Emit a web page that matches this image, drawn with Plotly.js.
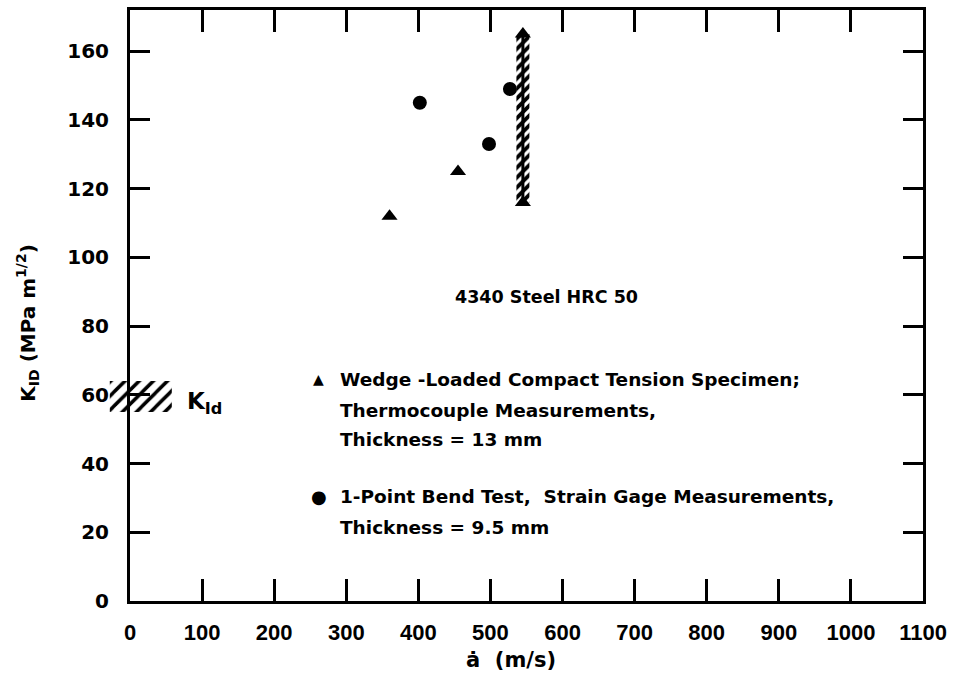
<!DOCTYPE html>
<html>
<head>
<meta charset="utf-8">
<script src="https://cdn.plot.ly/plotly-3.0.1.min.js"></script>
<style>html,body{margin:0;padding:0;background:#fff;}#chart{width:957px;height:696px;}</style>
</head>
<body>
<div id="chart"></div>
<script>
// ---- data ----
const wedgeX = [360, 455, 545, 545];          // crack speed (m/s)
const wedgeY = [112, 125, 116, 165];          // K_ID (MPa m^1/2)
const bendX = [402, 498, 527];
const bendY = [145, 133, 149];
const bandX = [545];                          // hatched scatter band of the wedge test
const bandLow = [116];
const bandHigh = [165];
const kIdX = [-28, 58];                       // static K_Id band
const kIdY = [55, 64];
const xTicks = [0, 100, 200, 300, 400, 500, 600, 700, 800, 900, 1000, 1100];
const yTicks = [0, 20, 40, 60, 80, 100, 120, 140, 160];
const wedgeLines = ['Wedge -Loaded Compact Tension Specimen;', 'Thermocouple Measurements,', 'Thickness = 13 mm'];
const bendLines = ['1-Point Bend Test,  Strain Gage Measurements,', 'Thickness = 9.5 mm'];
const materialLabel = '4340 Steel HRC 50';
const xTitle = 'ȧ  (m/s)';
const yTitle = 'K<sub>ID</sub> (MPa m<sup>1/2</sup>)';

// ---- layout constants ----
const W = 957, H = 696;
const margin = {l: 100, r: 34, t: 10, b: 95};
const frameLeftPx = 130;
const plotW = W - margin.l - margin.r;
const plotH = H - margin.t - margin.b;
const a = (frameLeftPx - margin.l) / plotW;
const xRange = [0, 1100];
const yRange = [0, 172];
const x2min = xRange[0] - (xRange[1] - xRange[0]) * a / (1 - a);
const bandHalf = 9;

const black = '#000';
const tickFont = {family: 'DejaVu Sans', size: 20, color: black, weight: 'bold'};
const textFont = {family: 'DejaVu Sans', size: 18.5, color: black, weight: 'bold'};

const traces = [
  { // K_Id band (on a wider hidden x axis so it can cross the frame)
    type: 'scatter', mode: 'lines', xaxis: 'x2', yaxis: 'y',
    x: [kIdX[0], kIdX[1], kIdX[1], kIdX[0], kIdX[0]],
    y: [kIdY[0], kIdY[0], kIdY[1], kIdY[1], kIdY[0]],
    fill: 'toself', fillcolor: 'rgba(255,255,255,0)',
    fillpattern: {shape: '/', fgcolor: black, bgcolor: 'rgba(255,255,255,0)', size: 10, solidity: 0.35},
    line: {width: 0, color: black}, showlegend: false, hoverinfo: 'skip'
  },
  { // hatched band
    type: 'scatter', mode: 'lines',
    x: [bandX[0] - bandHalf, bandX[0] + bandHalf, bandX[0] + bandHalf, bandX[0] - bandHalf, bandX[0] - bandHalf],
    y: [bandLow[0], bandLow[0], bandHigh[0], bandHigh[0], bandLow[0]],
    fill: 'toself', fillcolor: 'rgba(255,255,255,0)',
    fillpattern: {shape: '/', fgcolor: black, bgcolor: 'rgba(255,255,255,0)', size: 7, solidity: 0.55},
    line: {width: 0, color: black}, showlegend: false, hoverinfo: 'skip'
  },
  {
    type: 'scatter', mode: 'lines',
    x: [bandX[0], bandX[0]], y: [bandLow[0], bandHigh[0]],
    line: {width: 3, color: black}, showlegend: false, hoverinfo: 'skip'
  },
  {
    type: 'scatter', mode: 'markers', name: 'Wedge-loaded CT',
    x: wedgeX, y: wedgeY,
    marker: {symbol: 'triangle-up', size: 14, color: black},
    showlegend: false, cliponaxis: false
  },
  {
    type: 'scatter', mode: 'markers', name: '1-point bend',
    x: bendX, y: bendY,
    marker: {symbol: 'circle', size: 14, color: black},
    showlegend: false, cliponaxis: false
  }
];

const annotations = [];
annotations.push({x: 578, y: 88.5, xref: 'x', yref: 'y', text: materialLabel, showarrow: false,
  font: {family: 'DejaVu Sans', size: 17.5, color: black, weight: 'bold'}, xanchor: 'center', yanchor: 'middle'});
const legX = 288, symX = 262;
const wedgeRowY = [64.5, 55.5, 47];
const bendRowY = [30.5, 21.5];
annotations.push({x: symX, y: wedgeRowY[0], xref: 'x', yref: 'y', text: '▲', showarrow: false,
  font: {family: 'DejaVu Sans', size: 14, color: black}, xanchor: 'center', yanchor: 'middle'});
annotations.push({x: symX, y: bendRowY[0], xref: 'x', yref: 'y', text: '●', showarrow: false,
  font: {family: 'DejaVu Sans', size: 18, color: black}, xanchor: 'center', yanchor: 'middle'});
wedgeLines.forEach((t, i) => annotations.push({x: legX, y: wedgeRowY[i], xref: 'x', yref: 'y', text: t,
  showarrow: false, font: textFont, xanchor: 'left', yanchor: 'middle'}));
bendLines.forEach((t, i) => annotations.push({x: legX, y: bendRowY[i], xref: 'x', yref: 'y', text: t,
  showarrow: false, font: textFont, xanchor: 'left', yanchor: 'middle'}));
annotations.push({x: 76, y: 57.5, xref: 'x', yref: 'y', text: 'K<sub>Id</sub>', showarrow: false,
  font: {family: 'DejaVu Sans', size: 23, color: black, weight: 'bold'}, xanchor: 'left', yanchor: 'middle'});
// axis titles placed as in the reference (slightly off-centre)
annotations.push({x: 528, y: -(660 - (H - margin.b)) / plotH, xref: 'x', yref: 'paper', text: xTitle, showarrow: false,
  font: {family: 'DejaVu Sans', size: 21, color: black, weight: 'bold'}, xanchor: 'center', yanchor: 'middle'});
annotations.push({x: (28 - margin.l) / plotW, y: 81, xref: 'paper', yref: 'y', text: yTitle, showarrow: false, textangle: -90,
  font: {family: 'DejaVu Sans', size: 20, color: black, weight: 'bold'}, xanchor: 'center', yanchor: 'middle'});

const layout = {
  width: W, height: H,
  margin: margin,
  paper_bgcolor: '#fff', plot_bgcolor: 'rgba(0,0,0,0)',
  showlegend: false,
  xaxis: {
    domain: [a, 1], range: xRange, tickvals: xTicks, ticktext: xTicks.map(String),
    ticks: 'inside', ticklen: 22, tickwidth: 3, tickcolor: black,
    showline: true, linewidth: 3, linecolor: black, mirror: 'ticks',
    showgrid: false, zeroline: false, anchor: 'y',
    tickfont: {family: 'Liberation Sans', size: 22, color: black, weight: 'bold'},
    ticklabelstandoff: 10
  },
  xaxis2: {domain: [0, 1], range: [x2min, xRange[1]], visible: false, anchor: 'y', fixedrange: true},
  yaxis: {
    range: yRange, tickvals: yTicks, ticktext: yTicks.map(String),
    ticks: 'inside', ticklen: 20, tickwidth: 3, tickcolor: black,
    showline: true, linewidth: 3, linecolor: black, mirror: 'ticks',
    showgrid: false, zeroline: false, anchor: 'x',
    tickfont: tickFont, ticklabelstandoff: 14
  },
  annotations: annotations
};

Plotly.newPlot('chart', traces, layout, {staticPlot: true, displayModeBar: false});
</script>
</body>
</html>
